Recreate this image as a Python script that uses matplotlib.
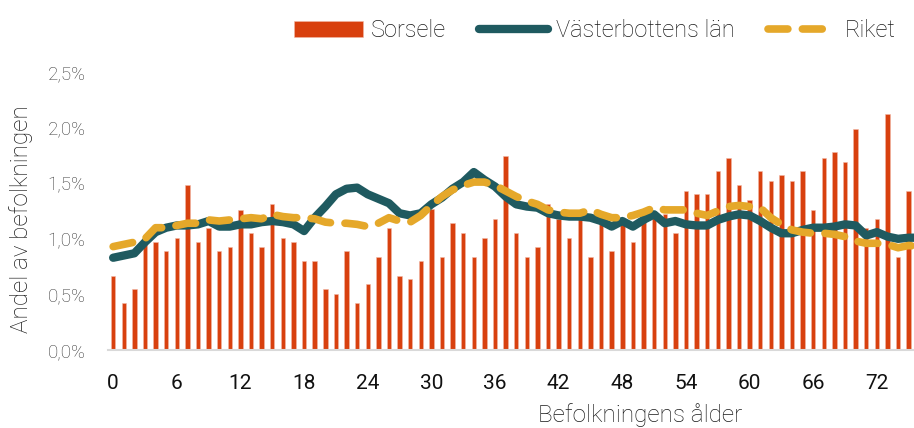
import numpy as np
import matplotlib
matplotlib.use("Agg")
import matplotlib.pyplot as plt
from matplotlib.ticker import FuncFormatter

plt.rcParams['font.family'] = ['Roboto', 'DejaVu Sans']

# Andel av befolkningen (%) per ålder
ages = np.arange(0, 77)
sorsele = [0.67, 0.42, 0.545, 0.95, 0.97, 0.89, 1.01, 1.48, 0.97, 1.10,
           0.89, 0.93, 1.26, 1.05, 0.93, 1.31, 1.01, 0.97, 0.80, 0.80,
           0.545, 0.50, 0.89, 0.42, 0.59, 0.84, 1.10, 0.67, 0.635, 0.80,
           1.27, 0.84, 1.14, 1.05, 0.84, 1.01, 1.18, 1.74, 1.05, 0.84,
           0.93, 1.31, 1.18, 1.01, 1.18, 0.84, 1.14, 0.89, 1.14, 0.97,
           1.22, 1.20, 1.22, 1.05, 1.43, 1.40, 1.40, 1.61, 1.73, 1.48,
           1.35, 1.61, 1.52, 1.57, 1.52, 1.61, 1.26, 1.73, 1.78, 1.69,
           1.99, 1.10, 1.18, 2.12, 0.84, 1.43, 1.10]
vasterbotten = [0.83, 0.85, 0.87, 0.97, 1.06, 1.10, 1.12, 1.12, 1.13, 1.16,
                1.11, 1.11, 1.13, 1.13, 1.15, 1.16, 1.15, 1.13, 1.07, 1.19,
                1.29, 1.40, 1.45, 1.46, 1.40, 1.36, 1.32, 1.23, 1.21, 1.23,
                1.31, 1.37, 1.45, 1.51, 1.60, 1.53, 1.47, 1.38, 1.31, 1.29,
                1.28, 1.23, 1.21, 1.20, 1.20, 1.19, 1.16, 1.11, 1.16, 1.11,
                1.17, 1.22, 1.14, 1.16, 1.13, 1.12, 1.12, 1.17, 1.20, 1.22,
                1.21, 1.16, 1.10, 1.05, 1.05, 1.08, 1.10, 1.10, 1.11, 1.13,
                1.12, 1.03, 1.06, 1.02, 1.00, 1.01, 1.01]
riket = [0.93, 0.95, 0.97, 1.00, 1.10, 1.10, 1.12, 1.14, 1.14, 1.17,
         1.16, 1.17, 1.18, 1.19, 1.18, 1.22, 1.20, 1.19, 1.19, 1.18,
         1.15, 1.14, 1.14, 1.13, 1.11, 1.14, 1.19, 1.16, 1.15, 1.21,
         1.30, 1.38, 1.44, 1.48, 1.51, 1.51, 1.48, 1.43, 1.38, 1.34,
         1.31, 1.26, 1.24, 1.23, 1.23, 1.26, 1.22, 1.19, 1.19, 1.21,
         1.24, 1.28, 1.26, 1.26, 1.26, 1.23, 1.21, 1.25, 1.29, 1.30,
         1.29, 1.28, 1.19, 1.13, 1.08, 1.06, 1.05, 1.05, 1.04, 1.02,
         0.98, 0.96, 0.96, 0.95, 0.92, 0.94, 0.93]
xticks = list(range(0, 73, 6))

fig = plt.figure(figsize=(9.14, 4.28), dpi=100)
ax = fig.add_axes([0.118, 0.182, 0.882, 0.65])

bars = ax.bar(ages, sorsele, width=0.42, color='#D8400E', edgecolor='#F2B8A6',
              linewidth=0.4, label='Sorsele', zorder=2)
l1, = ax.plot(ages, vasterbotten, color='#1F5A60', lw=6, solid_capstyle='round',
              solid_joinstyle='round', label='Västerbottens län', zorder=3)
l2, = ax.plot(ages, riket, color='#E5A82A', lw=5.5, dashes=(2.6, 1.9),
              dash_capstyle='round', label='Riket', zorder=4)

ax.set_xlim(-0.5, 75.5)
ax.set_ylim(0, 2.5)
ax.set_yticks(np.arange(0, 2.51, 0.5))
ax.yaxis.set_major_formatter(FuncFormatter(lambda v, p: f"{v:.1f}%".replace('.', ',')))
ax.set_xticks(xticks)
ax.tick_params(axis='y', length=0, labelsize=13.5, labelcolor='#3a3a3a', pad=16)
ax.tick_params(axis='x', length=0, labelsize=15, labelcolor='#111111', pad=17)
for lab in ax.get_yticklabels():
    lab.set_fontweight('light')

for s in ['top', 'right', 'left']:
    ax.spines[s].set_visible(False)
ax.spines['bottom'].set_color('#D9D9D9')
ax.spines['bottom'].set_linewidth(1.5)

ax.set_ylabel('Andel av befolkningen', fontsize=17.5, color='#1a1a1a',
              fontweight='light')
ax.yaxis.set_label_coords(-0.093, 0.47)
ax.set_xlabel('Befolkningens ålder', fontsize=17.5, color='#1a1a1a',
              fontweight='light')
ax.xaxis.set_label_coords(0.66, -0.19)

leg = fig.legend(handles=[bars, l1, l2], loc='upper right', bbox_to_anchor=(1.003, 1.005),
                 ncol=3, frameon=False, fontsize=17, handlelength=2.9,
                 handletextpad=0.35, columnspacing=1.4)
for t in leg.get_texts():
    t.set_fontweight('light')
    t.set_color('#1a1a1a')

fig.savefig('out.png', dpi=100)
